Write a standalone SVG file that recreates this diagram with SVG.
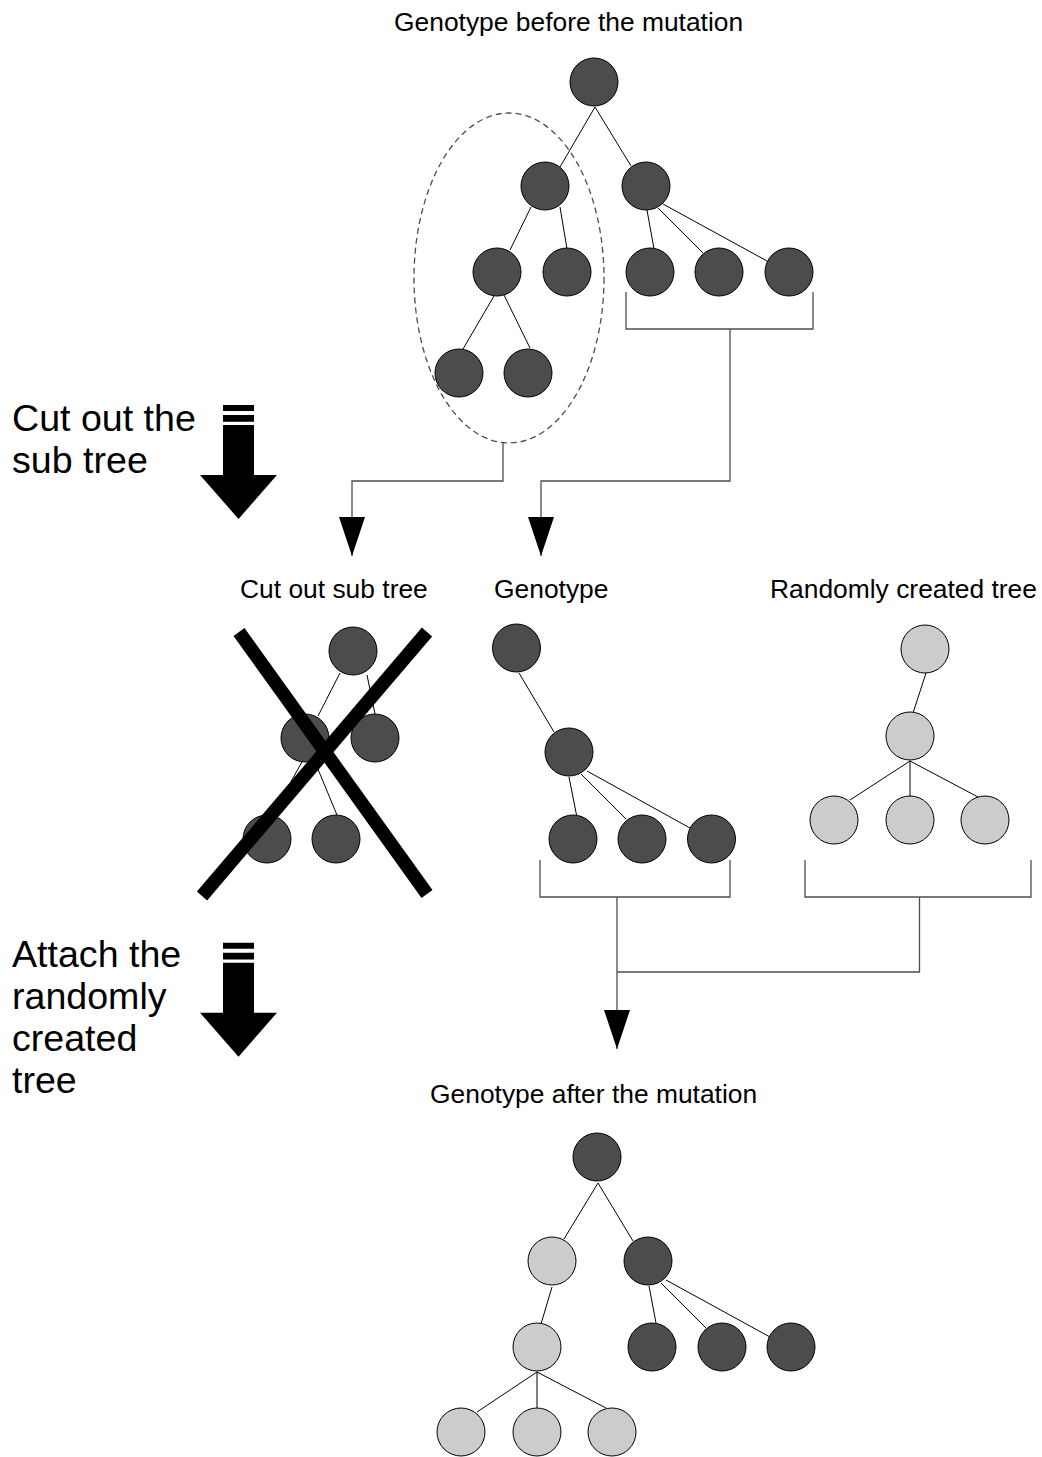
<svg xmlns="http://www.w3.org/2000/svg" xmlns:xlink="http://www.w3.org/1999/xlink" width="1042" height="1457" viewBox="0 0 1042 1457">
<style>
.d{fill:#4c4c4c;stroke:#000;stroke-width:1}
.l{fill:#cccccc;stroke:#000;stroke-width:1}
.e{stroke:#000;stroke-width:1;fill:none}
.c{stroke:#4d4d4d;stroke-width:1.3;fill:none}
.t{font-family:"Liberation Sans",Arial,sans-serif;font-size:26.4px;fill:#000}
.b{font-family:"Liberation Sans",Arial,sans-serif;font-size:37.6px;fill:#000}
.x{stroke:#000;stroke-width:13.5;stroke-linecap:butt}
</style>
<defs>
<marker id="ah" markerUnits="userSpaceOnUse" markerWidth="40" markerHeight="28" viewBox="0 -14 40 28" refX="39" refY="0" orient="auto">
<path d="M0,-13 L39,0 L0,13 Z" fill="#000"/>
</marker>
<g id="bigarrow">
<path d="M223,405H254V411H223Z M223,415H254V421.7H223Z M223,425H254V475H277L238.5,519L200,475H223Z" fill="#000"/>
</g>
</defs>
<rect width="1042" height="1457" fill="#fff"/>

<!-- labels -->
<text class="t" x="394" y="31">Genotype before the mutation</text>
<text class="t" x="240" y="598">Cut out sub tree</text>
<text class="t" x="494" y="598">Genotype</text>
<text class="t" x="770" y="598">Randomly created tree</text>
<text class="t" x="430" y="1103">Genotype after the mutation</text>
<text class="b" x="12" y="431">Cut out the</text>
<text class="b" x="12" y="473">sub tree</text>
<text class="b" x="12" y="967">Attach the</text>
<text class="b" x="12" y="1009">randomly</text>
<text class="b" x="12" y="1051">created</text>
<text class="b" x="12" y="1093">tree</text>

<g id="step-arrows">
<use xlink:href="#bigarrow"/>
<use xlink:href="#bigarrow" transform="translate(0,537.7)"/>
</g>

<!-- connectors -->
<g id="connectors">
<ellipse class="c" cx="509" cy="278" rx="95" ry="165" stroke-dasharray="6,4" stroke="#333"/>
<path class="c" d="M626,292V329H813V292 M730,329V481H541V556" marker-end="url(#ah)"/>
<path class="c" d="M503,443V481H352V556" marker-end="url(#ah)"/>
<path class="c" d="M540,860V897H730V860 M805,860V897H1031V860"/>
<path class="c" d="M919.5,897V972H617"/>
<path class="c" d="M617,897V1049" marker-end="url(#ah)"/>
<!-- tree edges -->
<path class="e" d="M595,107L560,167 M595,107L631,166 M531,207L510,250 M560,207L567,249 M647,210L654,249 M658,208L703,253 M663,204L767,261 M494,296L463,349 M504,295L530,348"/>
<path class="e" d="M340,673L318,716 M367,675L375,714 M303,760L272,816 M315,762L337,815"/>
<path class="e" d="M519,673L554,732 M569,777L576.5,815 M581,774L626,819 M587,771L690,828"/>
<path class="e" d="M926,673L913,713 M910,761L850,800 M910,761L910,797 M910,761L978,797"/>
<path class="e" d="M598,1183L564,1239 M598,1183L633,1241 M552,1287L541,1324 M649,1286L656,1323 M661,1283L706,1328 M666,1280L770,1337 M537,1372L477,1412 M537,1372L537,1408 M537,1372L606,1408"/>
</g>

<!-- tree before mutation -->
<g id="n-a-root"><circle class="d" cx="594" cy="82" r="24"/></g>
<g id="n-a-l"><circle class="d" cx="545" cy="186" r="24"/></g>
<g id="n-a-r"><circle class="d" cx="646" cy="186" r="24"/></g>
<g id="n-a-ll"><circle class="d" cx="497" cy="272" r="24"/></g>
<g id="n-a-lr"><circle class="d" cx="567" cy="272" r="24"/></g>
<g id="n-a-r1"><circle class="d" cx="650" cy="272" r="24"/></g>
<g id="n-a-r2"><circle class="d" cx="719" cy="272" r="24"/></g>
<g id="n-a-r3"><circle class="d" cx="789" cy="272" r="24"/></g>
<g id="n-a-lll"><circle class="d" cx="459" cy="373" r="24"/></g>
<g id="n-a-llr"><circle class="d" cx="528" cy="373" r="24"/></g>

<!-- cut out sub tree -->
<g id="n-c-root"><circle class="d" cx="353" cy="651" r="24"/></g>
<g id="n-c-l"><circle class="d" cx="305" cy="738" r="24"/></g>
<g id="n-c-r"><circle class="d" cx="375" cy="738" r="24"/></g>
<g id="n-c-ll"><circle class="d" cx="267" cy="839" r="24"/></g>
<g id="n-c-lr"><circle class="d" cx="336" cy="839" r="24"/></g>
<g id="cross">
<line class="x" x1="239" y1="632" x2="427" y2="894"/>
<line class="x" x1="427" y1="632" x2="202" y2="896"/>
</g>

<!-- genotype -->
<g id="n-g-root"><circle class="d" cx="516.5" cy="648" r="24"/></g>
<g id="n-g-mid"><circle class="d" cx="569" cy="752" r="24"/></g>
<g id="n-g-1"><circle class="d" cx="573" cy="839" r="24"/></g>
<g id="n-g-2"><circle class="d" cx="642" cy="839" r="24"/></g>
<g id="n-g-3"><circle class="d" cx="711.5" cy="839" r="24"/></g>

<!-- random tree -->
<g id="n-r-root"><circle class="l" cx="925" cy="649" r="24"/></g>
<g id="n-r-mid"><circle class="l" cx="910" cy="736" r="24"/></g>
<g id="n-r-1"><circle class="l" cx="834" cy="820" r="24"/></g>
<g id="n-r-2"><circle class="l" cx="910" cy="820" r="24"/></g>
<g id="n-r-3"><circle class="l" cx="985" cy="820" r="24"/></g>

<!-- after mutation -->
<g id="n-m-root"><circle class="d" cx="597" cy="1157" r="24"/></g>
<g id="n-m-l"><circle class="l" cx="552" cy="1261" r="24"/></g>
<g id="n-m-r"><circle class="d" cx="648" cy="1261" r="24"/></g>
<g id="n-m-lm"><circle class="l" cx="537" cy="1347" r="24"/></g>
<g id="n-m-r1"><circle class="d" cx="652" cy="1347" r="24"/></g>
<g id="n-m-r2"><circle class="d" cx="722" cy="1347" r="24"/></g>
<g id="n-m-r3"><circle class="d" cx="791" cy="1347" r="24"/></g>
<g id="n-m-a"><circle class="l" cx="461" cy="1432" r="24"/></g>
<g id="n-m-b"><circle class="l" cx="537" cy="1432" r="24"/></g>
<g id="n-m-c"><circle class="l" cx="612" cy="1432" r="24"/></g>
</svg>
